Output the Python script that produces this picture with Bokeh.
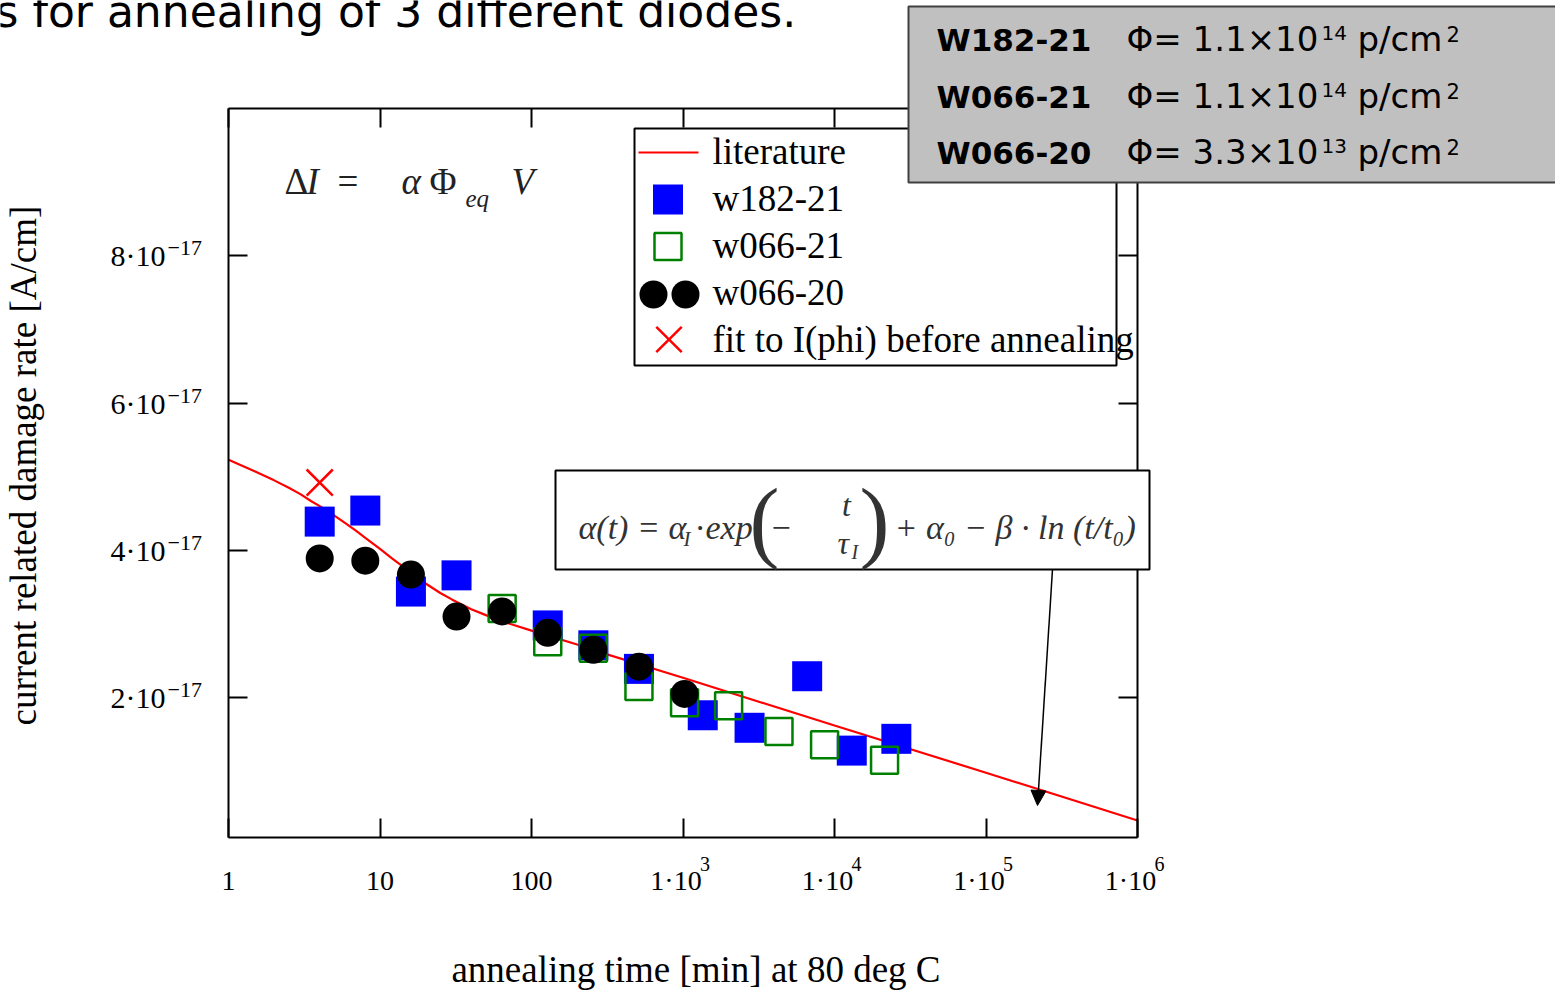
from bokeh.plotting import figure
from bokeh.models import (Range1d, LinearScale, LinearAxis, LogAxis, FixedTicker,
                          CustomJSTickFormatter, Label, BoxAnnotation, Arrow, NormalHead)
from bokeh.embed import file_html
from bokeh.resources import INLINE
import math

UNIT = 1e-17  # values below are in units of 1e-17 A/cm

# ---------------- data ----------------
lit_t = [1, 1.5, 2, 2.5, 3, 3.5, 4, 5, 6, 7, 8, 10, 12, 15, 20, 25, 30, 40, 50, 70, 100, 200, 300,
         1e3, 1e4, 1e5, 1e6]
lit_a = [5.23, 5.07, 4.95, 4.85, 4.76, 4.67, 4.60, 4.47, 4.36, 4.26, 4.17, 4.02, 3.89, 3.74, 3.55,
         3.42, 3.33, 3.20, 3.12, 3.01, 2.91, 2.72, 2.60, 2.27, 1.62, 0.98, 0.33]

w182_21_t = [4, 8, 16, 32, 128, 256, 512, 1350, 2750, 6600, 13000, 25600]
w182_21_a = [4.39, 4.54, 3.44, 3.66, 2.98, 2.71, 2.39, 1.76, 1.59, 2.29, 1.28, 1.44]

w066_21_t = [64, 128, 256, 512, 1024, 2000, 4300, 8600, 21400]
w066_21_a = [3.21, 2.76, 2.67, 2.15, 1.93, 1.89, 1.54, 1.36, 1.15]

w066_20_t = [4, 8, 16, 32, 64, 128, 256, 512, 1024]
w066_20_a = [3.89, 3.86, 3.67, 3.10, 3.17, 2.88, 2.65, 2.42, 2.05]

fit_t = [4]
fit_a = [4.92]

x_min, x_max = 1, 1e6
y_min, y_max = 0.1, 10
xticks = [1, 10, 100, 1e3, 1e4, 1e5, 1e6]
yticks = [2, 4, 6, 8]
x_label = "annealing time [min] at 80 deg C"
y_label = "current related damage rate [A/cm]"
legend_labels = ["literature", "w182-21", "w066-21", "w066-20", "fit to I(phi) before annealing"]
diode_ids = ["W182-21", "W066-21", "W066-20"]
fluence_mant = ["1.1", "1.1", "3.3"]
fluence_exp = ["14", "14", "13"]
title_text = "s for annealing of 3 different diodes."

SERIF = "Liberation Serif"
SANS = "DejaVu Sans"
BSHIFT = 0.34  # label baseline correction (fraction of font size)

# ---------------- layout geometry (canvas pixels) ----------------
W, H = 1555, 990
XL, XR, YT, YB = 228, 1137, 108, 837   # plot box inside the canvas
dec = (XR - XL) / math.log10(x_max / x_min)
ppu = (YB - YT) / (y_max - y_min)
xr = Range1d(x_min * 10 ** (-XL / dec), x_max * 10 ** ((W - XR) / dec))
yr = Range1d((y_min - (H - YB) / ppu) * UNIT, (y_max + YT / ppu) * UNIT)

p = figure(width=W, height=H, x_axis_type="log", x_range=xr, y_range=yr,
           output_backend="svg", toolbar_location=None, min_border=0)
p.outline_line_color = None
p.xgrid.visible = False
p.ygrid.visible = False
p.background_fill_color = "white"
p.border_fill_color = "white"

p.extra_x_ranges = {"px": Range1d(0, W)}
p.extra_y_ranges = {"px": Range1d(H, 0)}
p.extra_x_scales = {"px": LinearScale()}
p.extra_y_scales = {"px": LinearScale()}

def style_axis(ax):
    ax.axis_line_color = "black"
    ax.axis_line_width = 2
    ax.major_tick_line_color = "black"
    ax.major_tick_line_width = 2
    ax.major_tick_in = 19
    ax.major_tick_out = 0
    ax.minor_tick_line_color = None
    ax.major_label_text_color = "black"
    ax.axis_label_text_color = "black"

xbounds = (x_min, x_max)
ybounds = (y_min * UNIT, y_max * UNIT)

xa = p.xaxis[0]
style_axis(xa)
xa.fixed_location = y_min * UNIT
xa.bounds = xbounds
xa.ticker = FixedTicker(ticks=xticks)
xa.formatter = CustomJSTickFormatter(code="""
const e = Math.round(Math.log10(tick));
if (e < 3) return String(Math.round(tick));
return "1\u00b710\u2002";
""")
xa.major_label_text_font = SERIF
xa.major_label_text_font_size = "28px"
xa.major_label_standoff = 27
xa.axis_label = "\u2002\u2009" + x_label
xa.axis_label_text_font = SERIF
xa.axis_label_text_font_size = "37px"
xa.axis_label_text_font_style = "normal"
xa.axis_label_standoff = 50

ya = p.yaxis[0]
style_axis(ya)
ya.fixed_location = x_min
ya.bounds = ybounds
ya.ticker = FixedTicker(ticks=[v * UNIT for v in yticks])
ya.formatter = CustomJSTickFormatter(code="""
return Math.round(tick / 1e-17) + "\u00b710";
""")
ya.major_label_text_font = SERIF
ya.major_label_text_font_size = "30px"
ya.major_label_standoff = 63
ya.axis_label = "\u2009\u2009" + y_label
ya.axis_label_text_font = SERIF
ya.axis_label_text_font_size = "37px"
ya.axis_label_text_font_style = "normal"
ya.axis_label_standoff = 64

blank = CustomJSTickFormatter(code="return '';")
ra = LinearAxis(ticker=FixedTicker(ticks=[v * UNIT for v in yticks]), formatter=blank,
                major_label_text_font_size="10px", major_label_standoff=0,
                fixed_location=x_max, bounds=ybounds)
style_axis(ra)
p.add_layout(ra, "right")
ta = LogAxis(ticker=FixedTicker(ticks=xticks), formatter=blank,
             major_label_text_font_size="10px", major_label_standoff=0,
             fixed_location=y_max * UNIT, bounds=xbounds)
style_axis(ta)
p.add_layout(ta, "above")

CV = dict(left_units="canvas", right_units="canvas", top_units="canvas", bottom_units="canvas")

# ---------------- legend box (underlay) ----------------
p.add_layout(BoxAnnotation(left=634, right=1116, top=128, bottom=365, **CV,
                           fill_color="white", fill_alpha=1, line_color="black",
                           line_alpha=1, line_width=2, level="underlay"))

# ---------------- data glyphs ----------------
p.line(lit_t, [a * UNIT for a in lit_a], line_color="#ff0000", line_width=2.2)
p.scatter(w182_21_t, [a * UNIT for a in w182_21_a], marker="square", size=30,
          fill_color="#0000ff", line_color=None)
p.scatter(w066_21_t, [a * UNIT for a in w066_21_a], marker="square", size=27,
          fill_color=None, line_color="#008000", line_width=2.5)
p.scatter(w066_20_t, [a * UNIT for a in w066_20_a], marker="circle", size=28,
          fill_color="black", line_color=None)
p.scatter(fit_t, [a * UNIT for a in fit_a], marker="x", size=37,
          line_color="#ff0000", line_width=2.5)

# ---------------- legend keys ----------------
PX = dict(x_range_name="px", y_range_name="px")
p.line([638, 698], [152, 152], line_color="#ff0000", line_width=2, **PX)
p.scatter([667.5], [199], marker="square", size=30, fill_color="#0000ff", line_color=None, **PX)
p.scatter([667.5], [246], marker="square", size=27, fill_color=None, line_color="#008000",
          line_width=2.5, **PX)
p.scatter([653, 685], [294, 294], marker="circle", size=28, fill_color="black", line_color=None, **PX)
p.scatter([668.5], [339], marker="x", size=36, line_color="#ff0000", line_width=2.5, **PX)

def lab(x, y, text, size, style="normal", color="black", font=SERIF, align="left"):
    """place a text with its alphabetic baseline at canvas pixel (x, y)"""
    p.add_layout(Label(x=x, y=y - BSHIFT * size, x_units="canvas", y_units="canvas",
                       text=text, text_font=font, text_font_size=f"{size}px",
                       text_font_style=style, text_color=color, text_baseline="alphabetic",
                       text_align=align))

for labtxt, yb in zip(legend_labels, [164, 211, 258, 305, 352]):
    lab(712, yb, labtxt, 37)

# ---------------- tick superscripts ----------------
for v in yticks:
    p.add_layout(Label(x=167, y=v * UNIT, x_units="canvas", y_offset=BSHIFT * 22,
                       text="\u221217", text_font=SERIF, text_font_size="22px",
                       text_baseline="alphabetic", text_color="black"))
for t in xticks:
    e = int(round(math.log10(t)))
    if e >= 3:
        p.add_layout(Label(x=t, y=870 - BSHIFT * 20, y_units="canvas", x_offset=17, text=str(e),
                           text_font=SERIF, text_font_size="20px", text_baseline="alphabetic",
                           text_color="black"))

# ---------------- Delta I formula ----------------
DK = "#222222"
lab(284, 194, "\u0394", 37, "normal", DK)
lab(306, 194, "I", 37, "italic", DK)
lab(337, 194, "=", 37, "normal", DK)
lab(401, 194, "\u03b1", 37, "italic", DK)
lab(429, 194, "\u03a6", 37, "normal", DK)
lab(465, 206, "eq", 25, "italic", DK)
lab(511, 194, "V", 37, "italic", DK)

# ---------------- alpha(t) formula box ----------------
p.add_layout(BoxAnnotation(left=555, right=1149, top=470, bottom=569, **CV, fill_color="white",
                           fill_alpha=1, line_color="black", line_alpha=1, line_width=2))
FC = "#333333"
lab(578, 539, "\u03b1(t) = \u03b1", 34, "italic", FC)
lab(683, 546, "I", 21, "italic", FC)
lab(694, 539, "\u00b7", 34, "normal", FC)
lab(705, 539, "exp", 34, "italic", FC)
lab(749, 551, "(", 90, "normal", FC)
lab(771, 539, "\u2212", 34, "normal", FC)
lab(846, 515, "t", 32, "italic", FC, align="center")
p.line([836, 863], [528, 528], line_color=FC, line_width=1.5, **PX)
lab(837, 553, "\u03c4", 32, "italic", FC)
lab(851, 558, "I", 20, "italic", FC)
lab(859, 551, ")", 90, "normal", FC)
lab(894, 539, "+ \u03b1\u2080 \u2212 \u03b2 \u00b7 ln (t/t\u2080)", 34, "italic", FC)

p.add_layout(Arrow(end=NormalHead(size=15, fill_color="black", line_color="black"),
                   x_start=1052, y_start=569, x_end=1037, y_end=805,
                   line_color="black", line_width=1.5, **PX))

# ---------------- grey info box ----------------
p.add_layout(BoxAnnotation(left=908, right=1562, top=6, bottom=182, **CV, fill_color="#c0c0c0",
                           fill_alpha=1, line_color="#404040", line_alpha=1, line_width=2))
for i, yb in enumerate([50, 107, 163]):
    lab(936, yb, diode_ids[i], 31, "bold", "black", SANS)
    lab(1126, yb, "\u03a6= " + fluence_mant[i] + "\u00d710", 34, "normal", "black", SANS)
    lab(1321, yb - 11, fluence_exp[i], 20, "normal", "black", SANS)
    lab(1357, yb, "p/cm", 34, "normal", "black", SANS)
    lab(1446, yb - 9, "2", 21, "normal", "black", SANS)

# ---------------- slide title (cut off at the top edge, as in the source) ----------------
lab(-5, 26, title_text, 44, "normal", "black", SANS)

open("out.html", "w").write(file_html(p, INLINE))
